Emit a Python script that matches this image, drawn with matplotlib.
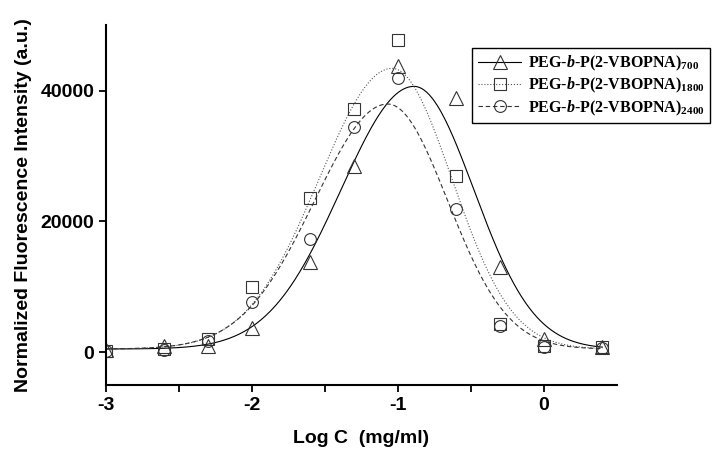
import numpy as np
import matplotlib
matplotlib.use("Agg")
import matplotlib.pyplot as plt

plt.rcParams['font.family'] = ['Liberation Sans', 'DejaVu Sans']
plt.rcParams['axes.unicode_minus'] = False
plt.rcParams['mathtext.fontset'] = 'custom'
plt.rcParams['mathtext.rm'] = 'Liberation Serif:bold'
plt.rcParams['mathtext.it'] = 'Liberation Serif:bold:italic'
plt.rcParams['mathtext.bf'] = 'Liberation Serif:bold'

# measured points (log C, intensity)
log_c = [-3, -2.6, -2.3, -2, -1.6, -1.3, -1, -0.6, -0.3, 0, 0.4]
y_700 = [300, 1000, 900, 3700, 13800, 28400, 43700, 38800, 13100, 2000, 800]
y_1800 = [200, 500, 2100, 10000, 23600, 37200, 47800, 26900, 4400, 1000, 800]
y_2400 = [200, 300, 1700, 7700, 17300, 34500, 42000, 21900, 4000, 800, 700]

# fitted peak curves: baseline, amplitude, centre, left width, right width
fit_700 = [500, 40150, -0.89, 0.50, 0.41]
fit_1800 = [500, 42900, -1.04, 0.50, 0.41]
fit_2400 = [500, 37450, -1.07, 0.50, 0.41]

labels = [r'PEG-$\mathit{b}$-P(2-VBOPNA)$_{700}$',
          r'PEG-$\mathit{b}$-P(2-VBOPNA)$_{1800}$',
          r'PEG-$\mathit{b}$-P(2-VBOPNA)$_{2400}$']


def peak(x, p):
    y0, a, xc, wl, wr = p
    w = np.where(x < xc, wl, wr)
    return y0 + a * np.exp(-(x - xc) ** 2 / (2 * w ** 2))


fig = plt.figure(figsize=(7.19, 4.58), dpi=100)
ax = fig.add_axes([0.1474, 0.1594, 0.858 - 0.1474, 0.945 - 0.1594])

xs = np.linspace(-3, 0.4, 400)
series = [(y_700, fit_700, '^', '-', 'black', 9.5),
          (y_1800, fit_1800, 's', ':', '#555555', 8),
          (y_2400, fit_2400, 'o', (0, (4, 2.5)), '#333333', 8.5)]
handles = []
for (ys, fit, mk, ls, col, ms), lab in zip(series, labels):
    ax.plot(xs, peak(xs, fit), ls=ls, color=col, lw=0.8)
    ax.plot(log_c, ys, mk, ms=ms, mfc='none', mec='#333333', mew=0.8, ls='none')
    h, = ax.plot([], [], ls=ls, color=col, lw=0.8, marker=mk, ms=ms,
                 mfc='none', mec='#333333', mew=0.8, label=lab)
    handles.append(h)

ax.set_xlim(-3, 0.5)
ax.set_ylim(-5000, 50000)
ax.set_xticks([-3, -2, -1, 0])
ax.set_xticks([-2.5, -1.5, -0.5], minor=True)
ax.set_yticks([0, 20000, 40000])
ax.tick_params(which='both', direction='out', length=5, width=1.3, labelsize=14)
ax.tick_params(axis='x', pad=4)
for t in ax.get_xticklabels() + ax.get_yticklabels():
    t.set_fontweight('bold')
for s in ['top', 'right']:
    ax.spines[s].set_visible(False)
for s in ['left', 'bottom']:
    ax.spines[s].set_linewidth(1.5)

ax.set_xlabel('Log C  (mg/ml)', fontsize=14, fontweight='bold', labelpad=11)
ax.set_ylabel('Normalized Fluorescence Intensity (a.u.)', fontsize=14,
              fontweight='bold', labelpad=6)

leg = ax.legend(handles=handles, loc='upper right',
                bbox_to_anchor=(710 / 719, 1 - 48 / 458),
                bbox_transform=fig.transFigure, borderaxespad=0,
                fancybox=False, edgecolor='black', framealpha=1,
                prop={'family': 'Liberation Serif', 'weight': 'bold', 'size': 11.5},
                handlelength=2.7, handletextpad=0.4, labelspacing=0.2,
                borderpad=0.35)
leg.get_frame().set_linewidth(1.0)

fig.savefig('out.png', dpi=100)
